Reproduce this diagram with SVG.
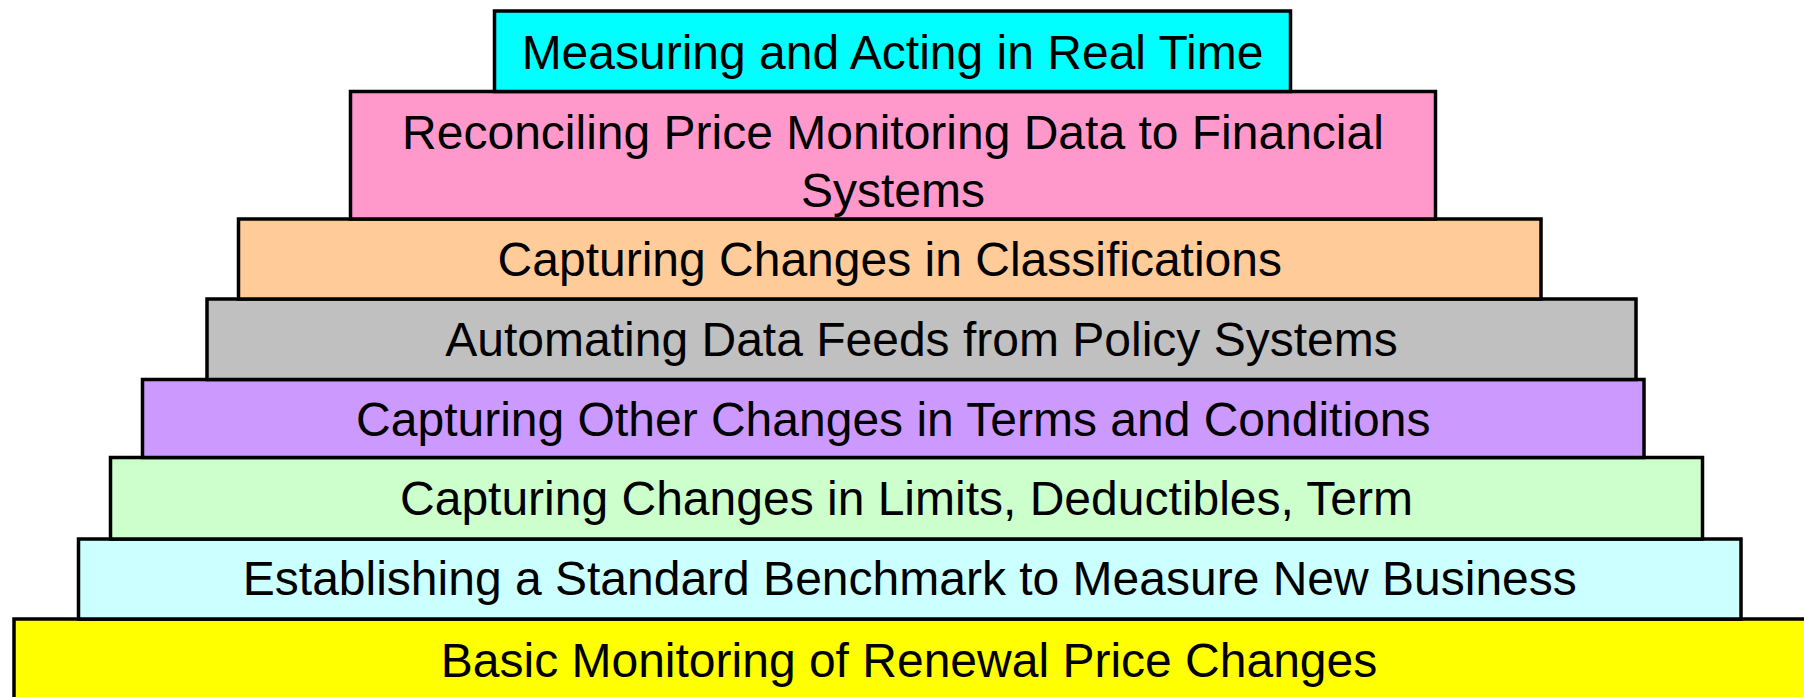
<svg xmlns="http://www.w3.org/2000/svg" width="1804" height="697" viewBox="0 0 1804 697">
  <style>
    .tier { stroke: #000000; stroke-width: 3.5; }
    .label { font-family: "Liberation Sans", Arial, sans-serif; font-size: 48px; fill: #000000; text-anchor: middle; }
  </style>
  <rect x="0" y="0" width="1804" height="697" fill="#ffffff"/>

  <!-- Stacked tiers, widest at the bottom -->
  <g id="tier-basic-monitoring">
    <rect class="tier" x="14" y="619" width="1800" height="90" fill="#FFFF00"/>
    <text class="label" x="909" y="677">Basic Monitoring of Renewal Price Changes</text>
  </g>
  <g id="tier-standard-benchmark">
    <rect class="tier" x="78.5" y="539" width="1662.5" height="80" fill="#CCFFFF"/>
    <text class="label" x="909.8" y="595">Establishing a Standard Benchmark to Measure New Business</text>
  </g>
  <g id="tier-limits-deductibles">
    <rect class="tier" x="110.5" y="457.5" width="1592" height="81.5" fill="#CCFFCC"/>
    <text class="label" x="906.5" y="515">Capturing Changes in Limits, Deductibles, Term</text>
  </g>
  <g id="tier-terms-conditions">
    <rect class="tier" x="142.5" y="379.5" width="1501.5" height="78" fill="#CC99FF"/>
    <text class="label" x="893.3" y="435.5">Capturing Other Changes in Terms and Conditions</text>
  </g>
  <g id="tier-policy-feeds">
    <rect class="tier" x="207" y="299" width="1429" height="80.5" fill="#C0C0C0"/>
    <text class="label" x="921.5" y="356">Automating Data Feeds from Policy Systems</text>
  </g>
  <g id="tier-classifications">
    <rect class="tier" x="238.5" y="219" width="1302.5" height="80" fill="#FFCC99"/>
    <text class="label" x="889.8" y="276">Capturing Changes in Classifications</text>
  </g>
  <g id="tier-reconciling">
    <rect class="tier" x="350.5" y="91.5" width="1085" height="127.5" fill="#FF99CC"/>
    <text class="label" x="893" y="149">Reconciling Price Monitoring Data to Financial</text>
    <text class="label" x="893" y="206.5">Systems</text>
  </g>
  <g id="tier-real-time">
    <rect class="tier" x="494.5" y="11" width="796" height="80.5" fill="#00FFFF"/>
    <text class="label" x="892.5" y="69">Measuring and Acting in Real Time</text>
  </g>

  <!-- No connectors: the tiers touch directly -->
  <g id="connectors"/>
</svg>
